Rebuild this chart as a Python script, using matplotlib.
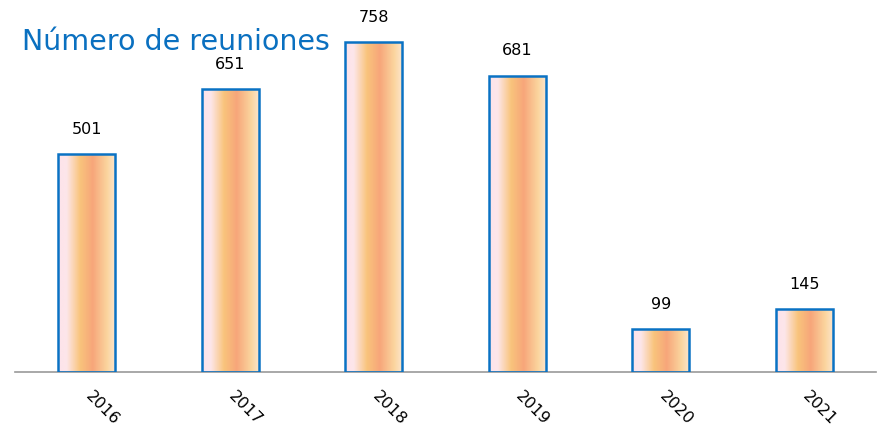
import numpy as np
import matplotlib
matplotlib.use("Agg")
import matplotlib.pyplot as plt
import matplotlib.transforms as mtransforms
from matplotlib.colors import LinearSegmentedColormap

years = ["2016", "2017", "2018", "2019", "2020", "2021"]
meetings = [501, 651, 758, 681, 99, 145]
title = "Número de reuniones"

W, H = 881, 431
fig = plt.figure(figsize=(W / 100, H / 100), dpi=100)
ax = fig.add_axes([15 / W, (H - 373) / H, (876 - 15) / W, (373 - 25) / H])

grad = LinearSegmentedColormap.from_list(
    "g",
    [(0.0, "#fde3ea"), (0.15, "#fde6ea"), (0.38, "#f9c47c"),
     (0.6, "#f7a67a"), (0.85, "#fbd59e"), (1.0, "#fde6d0")],
)
gimg = np.linspace(0, 1, 256).reshape(1, -1)

x = np.arange(len(years))
bars = ax.bar(x, meetings, width=0.4, facecolor="none", edgecolor="#0a72c4",
              linewidth=1.8, zorder=3)
for b in bars:
    x0, y0, w, h = b.get_x(), b.get_y(), b.get_width(), b.get_height()
    im = ax.imshow(gimg, cmap=grad, aspect="auto", extent=(x0, x0 + w, y0, y0 + h),
                   zorder=2, interpolation="bilinear")
    im.set_clip_path(b)
    ax.text(x0 + w / 2, y0 + h + 42, f"{h:g}", ha="center", va="bottom",
            fontsize=11.5, color="black")

ax.set_xlim(-0.5, 5.5)
ax.set_ylim(0, 800)
for s in ["top", "right", "left"]:
    ax.spines[s].set_visible(False)
ax.spines["bottom"].set_color("#999999")
ax.spines["bottom"].set_linewidth(1.2)
ax.set_yticks([])
ax.set_xticks(x)
ax.set_xticklabels(years, rotation=-45, ha="left", va="top", fontsize=11.5)
ax.tick_params(axis="x", length=0, pad=11)
off = mtransforms.ScaledTranslation(-4 / 100, 0, fig.dpi_scale_trans)
for lbl in ax.get_xticklabels():
    lbl.set_transform(lbl.get_transform() + off)

fig.text(22 / W, 1 - 42 / H, title, ha="left", va="center", fontsize=20.5,
         color="#0a70c0")

fig.savefig("out.png", dpi=100)
